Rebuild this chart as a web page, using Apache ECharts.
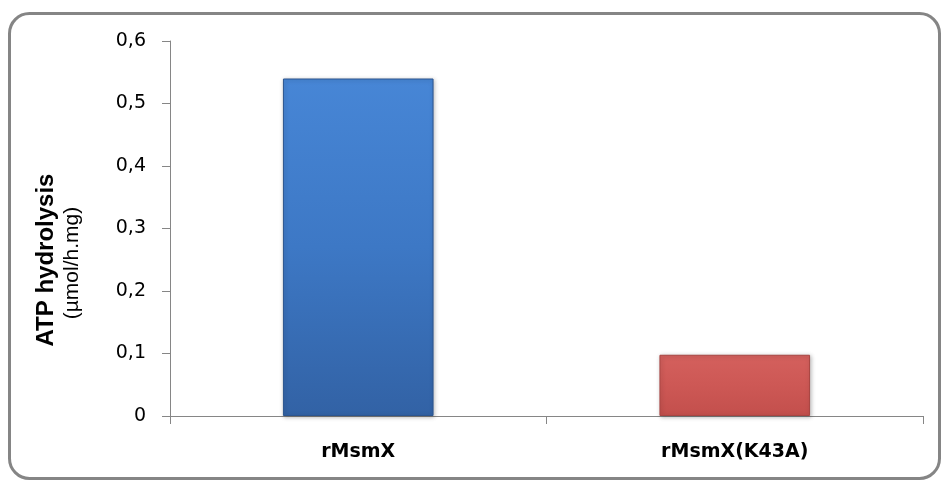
<!DOCTYPE html>
<html>
<head>
<meta charset="utf-8">
<script src="https://cdn.jsdelivr.net/npm/echarts@6/dist/echarts.min.js"></script>
<style>
  html, body { margin: 0; padding: 0; background: #ffffff; }
  #chart { width: 942px; height: 482px; }
</style>
</head>
<body>
<div id="chart"></div>
<script>
// ATP hydrolysis activity of the wild-type protein and the K43A mutant
const categories = ['rMsmX', 'rMsmX(K43A)'];
const hydrolysis = [0.54, 0.098];
const yTicks = [0, 0.1, 0.2, 0.3, 0.4, 0.5, 0.6];

// Vertical shading for each bar
const barFills = [
  { top: '#4786d6', mid: '#3d78c5', bottom: '#3262a5', edge: '#2c558f' },
  { top: '#d4605d', mid: '#cd5855', bottom: '#c34f4c', edge: '#a84542' }
];

const chart = echarts.init(document.getElementById('chart'), null, { renderer: 'canvas' });

const fmt = v => (v === 0 ? '0' : v.toFixed(1).replace('.', ','));

chart.setOption({
  animation: false,
  backgroundColor: '#ffffff',
  grid: { left: 170, right: 19, top: 41, bottom: 66 },
  xAxis: {
    type: 'category',
    data: categories,
    boundaryGap: true,
    axisLine: { lineStyle: { color: '#868686', width: 1 } },
    axisTick: { show: true, length: 8, lineStyle: { color: '#868686' } },
    axisLabel: {
      margin: 27,
      color: '#000000',
      fontFamily: '"DejaVu Sans"',
      fontWeight: 'bold',
      fontSize: 19
    }
  },
  yAxis: {
    type: 'value',
    min: yTicks[0],
    max: yTicks[yTicks.length - 1],
    interval: 0.1,
    splitLine: { show: false },
    axisLine: { show: true, lineStyle: { color: '#868686', width: 1 } },
    axisTick: { show: true, length: 8, lineStyle: { color: '#868686' } },
    axisLabel: {
      margin: 24,
      color: '#000000',
      fontFamily: '"DejaVu Sans"',
      fontSize: 19,
      formatter: fmt
    }
  },
  series: [{
    type: 'bar',
    barWidth: '40%',
    data: hydrolysis.map((v, i) => ({
      value: v,
      itemStyle: {
        color: {
          type: 'linear', x: 0, y: 0, x2: 0, y2: 1,
          colorStops: [
            { offset: 0, color: barFills[i].top },
            { offset: 0.5, color: barFills[i].mid },
            { offset: 1, color: barFills[i].bottom }
          ]
        },
        borderColor: barFills[i].edge,
        borderWidth: 1,
        shadowColor: 'rgba(0,0,0,0.25)',
        shadowBlur: 4,
        shadowOffsetX: 1,
        shadowOffsetY: 1
      }
    }))
  }],
  graphic: [
    {
      type: 'rect',
      shape: { x: 9.5, y: 13.5, width: 930, height: 465, r: 20 },
      style: { fill: 'none', stroke: '#858585', lineWidth: 3 },
      silent: true
    },
    {
      type: 'text',
      x: 46, y: 260,
      rotation: Math.PI / 2,
      style: {
        text: 'ATP hydrolysis',
        fill: '#000000',
        font: 'bold 24px "Liberation Sans", Arial, sans-serif',
        align: 'center',
        verticalAlign: 'middle'
      }
    },
    {
      type: 'text',
      x: 72, y: 263,
      rotation: Math.PI / 2,
      style: {
        text: '(µmol/h.mg)',
        fill: '#000000',
        font: '21px "Liberation Sans", Arial, sans-serif',
        align: 'center',
        verticalAlign: 'middle'
      }
    }
  ]
});
</script>
</body>
</html>
